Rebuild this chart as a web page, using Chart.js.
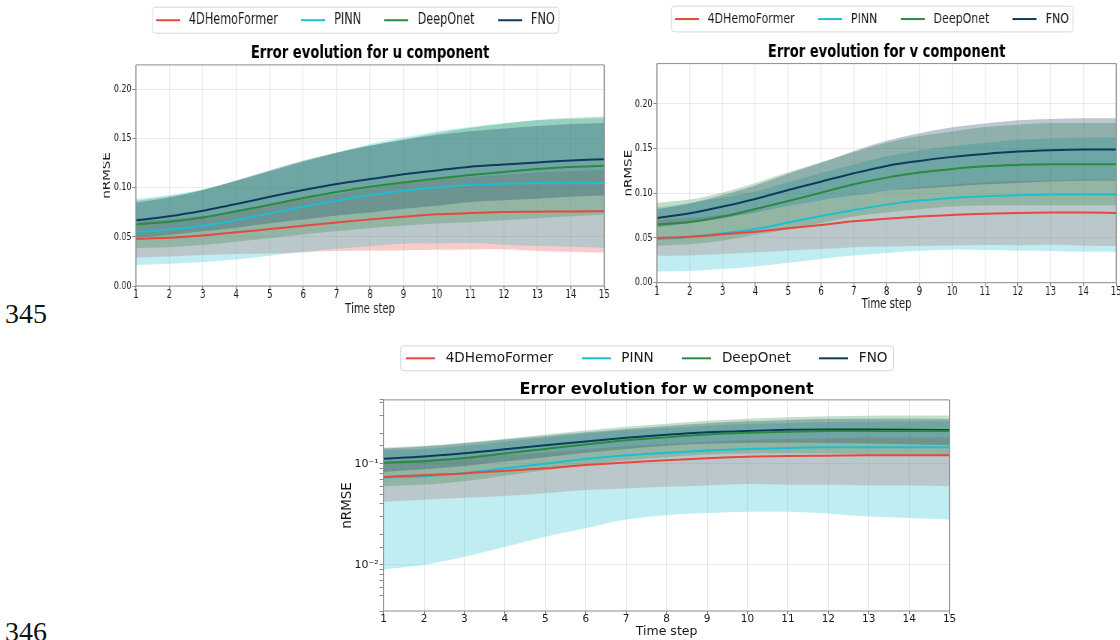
<!DOCTYPE html>
<html>
<head>
<meta charset="utf-8">
<script src="https://cdn.jsdelivr.net/npm/chart.js@4.4.1/dist/chart.umd.min.js"></script>
<style>
  html, body { margin: 0; padding: 0; background: #fff; width: 1120px; height: 640px; overflow: hidden; }
  .box { position: absolute; }
  .squeezed { transform: scaleX(0.75); transform-origin: 0 0; }
  .lineno { position: absolute; left: 5px; font-family: 'Liberation Serif', 'Times New Roman', serif; font-size: 28px; line-height: 1; color: #111; }
</style>
</head>
<body>
<div class="lineno" style="top:300px">345</div>
<div class="lineno" style="top:618px">346</div>
<div class="box squeezed" style="left:102.8px;top:-14px;width:684px;height:336px"><canvas id="chartU"></canvas></div>
<div class="box squeezed" style="left:623.8px;top:-15px;width:680px;height:333px"><canvas id="chartV"></canvas></div>
<div class="box" style="left:340.4px;top:327px;width:639px;height:323px"><canvas id="chartW"></canvas></div>
<script>
const steps = [1, 2, 3, 4, 5, 6, 7, 8, 9, 10, 11, 12, 13, 14, 15];
const models = ['4DHemoFormer', 'PINN', 'DeepOnet', 'FNO'];
const modelColors = ['#e8473e', '#1ebdd1', '#2a8a3f', '#0c3b5c'];

// u component: mean and std per model
const uHemo    = [0.048, 0.049, 0.0515, 0.0546, 0.058, 0.0614, 0.0647, 0.0678, 0.0705, 0.0729, 0.0742, 0.0753, 0.0756, 0.0759, 0.076];
const uHemoStd = [0.019, 0.019, 0.020, 0.022, 0.025, 0.027, 0.029, 0.032, 0.034, 0.036, 0.037, 0.038, 0.040, 0.041, 0.042];
const uPinn    = [0.055, 0.0576, 0.0614, 0.067, 0.0739, 0.0807, 0.0868, 0.0925, 0.097, 0.1003, 0.1027, 0.104, 0.1047, 0.105, 0.1047];
const uPinnStd = [0.0336, 0.035, 0.037, 0.040, 0.043, 0.046, 0.049, 0.052, 0.054, 0.057, 0.059, 0.062, 0.064, 0.065, 0.066];
const uDeep    = [0.0627, 0.0654, 0.0698, 0.076, 0.0827, 0.0895, 0.0956, 0.101, 0.1054, 0.1095, 0.113, 0.116, 0.119, 0.121, 0.1224];
const uDeepStd = [0.024, 0.026, 0.028, 0.031, 0.034, 0.037, 0.040, 0.042, 0.044, 0.046, 0.048, 0.049, 0.050, 0.050, 0.050];
const uFno     = [0.067, 0.071, 0.0766, 0.0834, 0.0908, 0.0976, 0.1037, 0.1088, 0.1136, 0.1176, 0.1214, 0.1237, 0.1258, 0.1278, 0.129];
const uFnoStd  = [0.0177, 0.019, 0.021, 0.024, 0.027, 0.030, 0.032, 0.034, 0.035, 0.036, 0.036, 0.0365, 0.037, 0.037, 0.037];

// v component
const vHemo    = [0.050, 0.0515, 0.0541, 0.0571, 0.0608, 0.0646, 0.0687, 0.0716, 0.0739, 0.0757, 0.0772, 0.078, 0.0784, 0.0784, 0.078];
const vHemoStd = [0.020, 0.021, 0.022, 0.023, 0.025, 0.027, 0.029, 0.031, 0.033, 0.034, 0.035, 0.036, 0.036, 0.037, 0.037];
const vPinn    = [0.0485, 0.0511, 0.0552, 0.0601, 0.0672, 0.0746, 0.0813, 0.0873, 0.0918, 0.0948, 0.0966, 0.0978, 0.0985, 0.0985, 0.0985];
const vPinnStd = [0.036, 0.038, 0.040, 0.042, 0.045, 0.048, 0.051, 0.054, 0.056, 0.058, 0.060, 0.062, 0.063, 0.064, 0.064];
const vDeep    = [0.0653, 0.0679, 0.0739, 0.0825, 0.0914, 0.1007, 0.110, 0.1175, 0.1231, 0.1272, 0.1302, 0.1317, 0.1325, 0.1325, 0.1325];
const vDeepStd = [0.024, 0.025, 0.027, 0.029, 0.032, 0.034, 0.036, 0.039, 0.041, 0.042, 0.044, 0.045, 0.046, 0.046, 0.046];
const vFno     = [0.0724, 0.0776, 0.0851, 0.0937, 0.1037, 0.113, 0.1224, 0.1306, 0.1362, 0.1407, 0.144, 0.1466, 0.1481, 0.1489, 0.149];
const vFnoStd  = [0.010, 0.011, 0.013, 0.015, 0.018, 0.021, 0.025, 0.028, 0.031, 0.033, 0.034, 0.035, 0.035, 0.035, 0.035];

// w component (log axis)
const wHemo    = [0.074, 0.077, 0.080, 0.085, 0.090, 0.097, 0.103, 0.108, 0.113, 0.117, 0.119, 0.120, 0.121, 0.121, 0.121];
const wHemoStd = [0.032, 0.033, 0.034, 0.037, 0.039, 0.042, 0.046, 0.049, 0.052, 0.054, 0.057, 0.058, 0.060, 0.060, 0.061];
const wPinn    = [0.073, 0.075, 0.081, 0.090, 0.100, 0.111, 0.121, 0.128, 0.135, 0.140, 0.143, 0.145, 0.145, 0.145, 0.145];
const wPinnStd = [0.064, 0.065, 0.069, 0.075, 0.081, 0.088, 0.093, 0.097, 0.1025, 0.1065, 0.1095, 0.113, 0.115, 0.116, 0.117];
const wDeep    = [0.102, 0.106, 0.114, 0.126, 0.140, 0.155, 0.170, 0.182, 0.194, 0.202, 0.207, 0.210, 0.211, 0.211, 0.210];
const wDeepStd = [0.042, 0.044, 0.047, 0.050, 0.054, 0.058, 0.062, 0.066, 0.071, 0.076, 0.080, 0.084, 0.087, 0.088, 0.089];
const wFno     = [0.112, 0.118, 0.127, 0.139, 0.152, 0.166, 0.180, 0.193, 0.204, 0.211, 0.216, 0.218, 0.218, 0.217, 0.215];
const wFnoStd  = [0.029, 0.030, 0.032, 0.034, 0.036, 0.038, 0.040, 0.043, 0.047, 0.051, 0.055, 0.058, 0.060, 0.061, 0.062];

const linTicks = [0, 0.05, 0.10, 0.15, 0.20];
const logTickLabels = { '0.1': '10\u207B\u00B9', '0.01': '10\u207B\u00B2' };

Chart.defaults.font.family = "'DejaVu Sans', sans-serif";
Chart.defaults.color = '#1a1a1a';
Chart.defaults.elements.line.cubicInterpolationMode = 'monotone';

const gridColor = 'rgba(0,0,0,0.08)';
const spineColor = '#8c8c8c';
const bandAlpha = 0.28;

function rgba(hex, a) {
    const n = parseInt(hex.slice(1), 16);
    return `rgba(${n >> 16}, ${(n >> 8) & 255}, ${n & 255}, ${a})`;
}

function pts(vals) {
    return vals.map((v, i) => ({ x: steps[i], y: v }));
}

// little line sample for the legend, so the gap to the text can be set
function lineIcon(color, w) {
    const c = document.createElement('canvas');
    c.width = w; c.height = 4;
    const g = c.getContext('2d');
    g.strokeStyle = color; g.lineWidth = 2;
    g.beginPath(); g.moveTo(0, 2); g.lineTo(w, 2); g.stroke();
    return c;
}

// frame around the plot (all four sides)
const spines = {
    id: 'spines',
    afterDatasetsDraw(chart, args, opts) {
        const { ctx, chartArea: a } = chart;
        ctx.save();
        ctx.strokeStyle = spineColor;
        ctx.lineWidth = 1;
        ctx.beginPath();
        ctx.moveTo(a.left, a.top); ctx.lineTo(a.right, a.top);
        ctx.moveTo(a.left, a.bottom); ctx.lineTo(a.right, a.bottom);
        ctx.stroke();
        ctx.lineWidth = opts.vWidth || 1;
        ctx.beginPath();
        ctx.moveTo(a.left, a.top); ctx.lineTo(a.left, a.bottom);
        ctx.moveTo(a.right, a.top); ctx.lineTo(a.right, a.bottom);
        ctx.stroke();
        ctx.restore();
    }
};

// rounded box around the legend items
const legendFrame = {
    id: 'legendFrame',
    afterDraw(chart, args, opts) {
        const boxes = chart.legend && chart.legend.legendHitBoxes;
        if (!boxes || !boxes.length) return;
        const last = boxes[boxes.length - 1];
        const l = boxes[0].left + opts.left;
        const r = last.left + last.width + opts.right;
        const t = boxes[0].top - opts.pad;
        const b = boxes[0].top + boxes[0].height + opts.pad;
        const ctx = chart.ctx;
        ctx.save();
        ctx.strokeStyle = '#d6d6d6';
        ctx.lineWidth = 1;
        ctx.beginPath();
        ctx.roundRect(l, t, r - l, b - t, opts.radius);
        ctx.stroke();
        ctx.restore();
    }
};

function buildChart(id, o) {
    const datasets = [];
    o.means.forEach((m, k) => {
        datasets.push({
            label: models[k],
            data: pts(m),
            borderColor: modelColors[k],
            backgroundColor: modelColors[k],
            borderWidth: 2,
            pointRadius: 0,
            pointStyle: lineIcon(modelColors[k], o.iconW),
            fill: false
        });
    });
    // bands: FNO gets the lowest index so 4DHemoFormer's band is painted first
    for (let k = 3; k >= 0; k--) {
        const lo = o.means[k].map((v, i) => v - o.stds[k][i]);
        const hi = o.means[k].map((v, i) => v + o.stds[k][i]);
        const loIdx = datasets.length;
        datasets.push({ label: models[k] + ' low', data: pts(lo), borderWidth: 0, pointRadius: 0, fill: false });
        datasets.push({
            label: models[k] + ' high', data: pts(hi), borderWidth: 0, pointRadius: 0,
            fill: { target: loIdx }, backgroundColor: rgba(modelColors[k], bandAlpha)
        });
    }

    const yScale = o.log ? {
        type: 'logarithmic',
        min: o.yMin, max: o.yMax,
        ticks: {
            autoSkip: false,
            font: { size: o.yTickSize },
            padding: o.yTickPad,
            callback: v => logTickLabels[String(+v.toPrecision(6))] || ''
        },
        grid: {
            color: c => (c.tick && logTickLabels[String(+c.tick.value.toPrecision(6))]) ? gridColor : 'rgba(0,0,0,0)',
            tickColor: spineColor,
            tickLength: o.yTickLen
        }
    } : {
        type: 'linear',
        min: o.yMin, max: o.yMax,
        afterBuildTicks: s => { s.ticks = linTicks.map(v => ({ value: v })); },
        ticks: {
            font: { size: o.yTickSize },
            padding: o.yTickPad,
            callback: v => v.toFixed(2)
        },
        grid: { color: gridColor, tickColor: spineColor, tickLength: o.yTickLen }
    };
    Object.assign(yScale, {
        border: { display: false },
        title: { display: true, text: 'nRMSE', font: { size: 13.5 }, padding: { top: o.yTitlePad, bottom: 0 } },
        afterFit: s => { s.width = o.yWidth; }
    });

    return new Chart(document.getElementById(id), {
        type: 'line',
        data: { datasets },
        plugins: [spines, legendFrame],
        options: {
            responsive: true,
            maintainAspectRatio: false,
            animation: false,
            layout: { padding: { left: 0, right: o.padRight, top: 0, bottom: 0 } },
            scales: {
                x: {
                    type: 'linear',
                    min: 1, max: 15,
                    ticks: { stepSize: 1, autoSkip: false, maxRotation: 0, padding: 0, font: { size: o.xTickSize, lineHeight: 1 } },
                    grid: { color: gridColor, tickColor: spineColor, tickLength: 3.5, lineWidth: o.vLine, tickWidth: o.vLine },
                    border: { display: false },
                    title: { display: true, text: 'Time step', font: { size: o.xTitleSize }, padding: { top: 0, bottom: o.xTitlePad } },
                    afterFit: s => { s.height = o.xHeight; }
                },
                y: yScale
            },
            plugins: {
                legend: {
                    position: 'top',
                    labels: {
                        filter: item => item.datasetIndex < 4,
                        usePointStyle: true,
                        pointStyleWidth: o.legendBox,
                        font: { size: o.legendSize },
                        padding: o.legendPad,
                        color: '#1a1a1a'
                    }
                },
                legendFrame: o.frame,
                spines: { vWidth: o.vLine },
                title: {
                    display: true,
                    text: o.title,
                    fullSize: false,
                    weight: 500,
                    color: '#000',
                    font: { size: o.titleSize, weight: 'bold' },
                    padding: { top: o.titlePadTop, bottom: o.titlePadBottom }
                },
                tooltip: { enabled: false }
            }
        }
    });
}

// the two upper panels are drawn wide and squeezed to 0.75 by CSS
const squeezed = {
    log: false, vLine: 1.33, iconW: 32, legendBox: 41, legendSize: 15, legendPad: 26.7,
    frame: { left: 0, right: 5.7, pad: 5.5, radius: 4 },
    titleSize: 17.5, yTickSize: 10.5, yTickLen: 4.7, yTickPad: 1.3,
    xTickSize: 11.5, xTitleSize: 13.5
};

buildChart('chartU', Object.assign({}, squeezed, {
    title: 'Error evolution for u component',
    means: [uHemo, uPinn, uDeep, uFno],
    stds: [uHemoStd, uPinnStd, uDeepStd, uFnoStd],
    yMin: 0, yMax: 0.225,
    yWidth: 43.9, yTitlePad: -2.4, padRight: 15.7,
    xHeight: 36, xTitlePad: 4.9,
    titlePadTop: 5.6, titlePadBottom: 0.6
}));

buildChart('chartV', Object.assign({}, squeezed, {
    title: 'Error evolution for v component',
    means: [vHemo, vPinn, vDeep, vFno],
    stds: [vHemoStd, vPinnStd, vDeepStd, vFnoStd],
    legendSize: 14.7,
    yMin: 0, yMax: 0.245,
    yWidth: 43.9, yTitlePad: -1.4, padRight: 23.7,
    xHeight: 35.3, xTitlePad: 5.4,
    titlePadTop: 5.8, titlePadBottom: 0.4
}));

buildChart('chartW', {
    log: true, vLine: 1, iconW: 29, legendBox: 36.8, legendSize: 13.6, legendPad: 24.5,
    frame: { left: -1.3, right: 6, pad: 5.6, radius: 3 },
    title: 'Error evolution for w component', titleSize: 16,
    means: [wHemo, wPinn, wDeep, wFno],
    stds: [wHemoStd, wPinnStd, wDeepStd, wFnoStd],
    yMin: 0.0035, yMax: 0.427,
    yTickSize: 11, yTickLen: 4, yTickPad: 1,
    yWidth: 43.6, yTitlePad: -0.5, padRight: 29.4,
    xTickSize: 10.5, xTitleSize: 12.5,
    xHeight: 39, xTitlePad: 11.1,
    titlePadTop: 4.9, titlePadBottom: 0.7
});
</script>
</body>
</html>
